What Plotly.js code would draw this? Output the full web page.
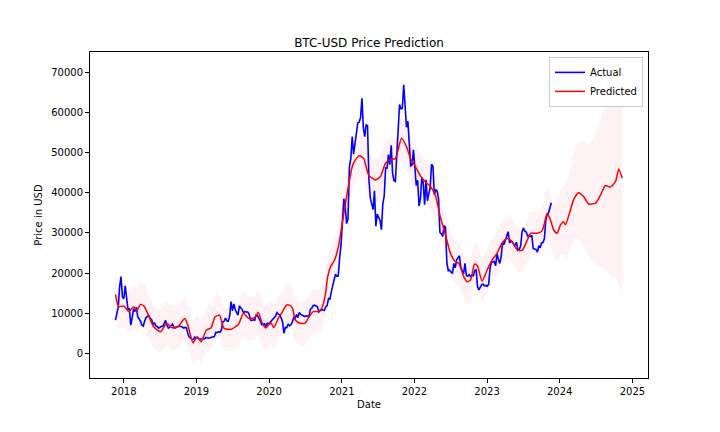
<!DOCTYPE html>
<html>
<head>
<meta charset="utf-8">
<script src="https://cdn.plot.ly/plotly-3.0.1.min.js"></script>
<style>html,body{margin:0;padding:0;background:#fff;}#chart{width:720px;height:432px;}</style>
</head>
<body>
<div id="chart"></div>
<script>
// Actual BTC-USD weekly closes (Mondays), one list per year with its first date
const actualYearStarts = ['2017-11-20','2018-01-01','2019-01-07','2020-01-06','2021-01-04','2022-01-03','2023-01-02'];
const actual2017 = [8250, 9700, 11500, 16700, 19100, 14000];
const actual2018 = [13600, 16800, 13800, 10900, 11200, 7000, 8900, 11100, 10400, 11500, 9100, 8600, 8000,
  7000, 6800, 8100, 8900, 9200, 9400, 8700, 8400, 7100, 7650, 6800, 6700, 6250, 6600, 6700, 6700, 7700, 8200,
  6950, 6300, 6500, 6900, 7300, 6300, 6300, 6600, 6600, 6650, 6750, 6550, 6300, 6450, 6350, 4850, 4000,
  3850, 3400, 3500, 4050, 3750];
const actual2019 = [4000, 3550, 3550, 3450, 3450, 3600, 3950, 3800, 3750, 3900, 4000, 4000, 4150, 5200, 5150,
  5400, 5200, 5700, 7800, 8000, 8800, 8100, 8000, 9300, 12900, 10600, 12300, 10900, 10300, 9500, 11800, 11400,
  10900, 10100, 10400, 10300, 10300, 9700, 8300, 8200, 8350, 8250, 9550, 9400, 8800, 8100, 7100, 7300, 7350,
  6650, 7500, 7300];
const actual2020 = [7750, 8100, 8650, 8900, 9300, 10150, 9700, 9650, 8750, 7900, 5000, 6450, 6400, 7300, 6850,
  7100, 7750, 8900, 8600, 9700, 8900, 10200, 9700, 9450, 9300, 9150, 9350, 9250, 9200, 11000, 11250, 11900,
  12000, 11750, 11700, 10300, 10700, 10950, 10800, 10700, 11550, 11900, 13650, 13550, 15300, 16700, 18400,
  19700, 19200, 19300, 23800, 27000];
const actual2021 = [33000, 38500, 36600, 32300, 33500, 46500, 48500, 54000, 49600, 52300, 56000, 57400, 57600,
  58700, 63500, 56200, 54000, 57000, 56700, 43500, 38700, 37300, 35800, 40500, 31700, 34700, 33700, 33100,
  30800, 37200, 39200, 46300, 46000, 49500, 47000, 51800, 44900, 43000, 42800, 49100, 57500, 62000, 60900,
  61000, 66900, 60100, 56300, 57800, 50600, 46700, 46900, 50700];
const actual2022 = [46400, 41800, 43100, 36700, 38500, 43800, 42500, 37000, 43200, 38000, 39700, 41300, 47100,
  46600, 39500, 40800, 40400, 38500, 30100, 29800, 29100, 31800, 31400, 22500, 20600, 20700, 20200, 19900,
  22400, 21300, 23300, 23800, 24300, 21400, 20300, 19800, 22400, 19400, 19200, 19600, 19100, 19500, 19300,
  20600, 20900, 16600, 15800, 16450, 17100, 17200, 16800, 16900];
const actual2023 = [16700, 17200, 21200, 22700, 22800, 22900, 21800, 24800, 23500, 22400, 24100, 27700, 27100,
  28200, 29700, 30300, 27500, 28000, 27700, 27100, 26900, 27700, 25700, 25900, 26800, 30300, 31200, 30400,
  30200, 29200, 29300, 29100, 29400, 26100, 26000, 25900, 25200, 26800, 26300, 27500, 27600, 28500, 33100,
  34500, 35000, 36500, 37500];

// Predicted series with its confidence band
const predDates = ['2017-11-20','2017-12-07','2018-01-01','2018-01-26','2018-02-20','2018-03-08','2018-03-25',
  '2018-04-12','2018-05-05','2018-05-31','2018-07-05','2018-08-05','2018-08-30','2018-10-03','2018-11-03',
  '2018-11-20','2018-12-15','2019-01-05','2019-01-25','2019-02-20','2019-03-15','2019-04-05','2019-04-27',
  '2019-05-20','2019-06-25','2019-08-01','2019-08-25','2019-09-20','2019-10-20','2019-11-08','2019-11-25',
  '2019-12-15','2020-01-10','2020-01-25','2020-02-20','2020-03-05','2020-03-28','2020-04-12','2020-04-28',
  '2020-05-12','2020-06-05','2020-07-01','2020-07-15','2020-08-10','2020-09-01','2020-09-22','2020-10-10',
  '2020-10-22','2020-11-05','2020-11-25','2020-12-15','2021-01-03','2021-01-28','2021-02-22','2021-03-10',
  '2021-04-01','2021-04-21','2021-05-16','2021-06-19','2021-07-14','2021-08-08','2021-09-02','2021-09-27',
  '2021-10-28','2021-11-22','2021-12-12','2022-01-06','2022-01-31','2022-02-25','2022-03-23','2022-04-17',
  '2022-05-11','2022-06-06','2022-07-01','2022-07-26','2022-08-12','2022-09-06','2022-09-23','2022-10-10',
  '2022-10-30','2022-11-13','2022-12-07','2023-01-01','2023-01-26','2023-02-20','2023-03-17','2023-04-12',
  '2023-05-07','2023-06-02','2023-06-27','2023-07-22','2023-08-08','2023-09-10','2023-10-05','2023-10-30',
  '2023-11-16','2023-12-02','2023-12-19','2024-01-05','2024-01-20','2024-01-30','2024-02-24','2024-03-12',
  '2024-04-06','2024-05-01','2024-05-26','2024-06-29','2024-07-24','2024-08-18','2024-09-12','2024-10-08',
  '2024-10-24','2024-11-10'];
const predValues = [14700, 11600, 11800, 10400, 11600, 10600, 12200, 11800, 9500, 6600, 5400, 7500, 6400, 6800,
  8700, 6800, 2600, 4100, 2900, 5800, 6300, 9100, 9500, 6200, 6000, 7300, 10000, 8700, 8900, 10200, 7800, 6300,
  7600, 6400, 9100, 10000, 12000, 12000, 11200, 8300, 7500, 7500, 8700, 10400, 10400, 11200, 14500, 19100,
  21600, 23200, 26600, 32400, 39900, 46500, 48200, 49200, 48500, 44400, 43200, 44000, 47300, 48300, 48500,
  53600, 51500, 48600, 46500, 44200, 42700, 41500, 39200, 34000, 29500, 24900, 22800, 22400, 19100, 17800,
  18300, 22200, 21800, 18000, 20700, 23200, 24900, 27400, 28600, 27800, 25700, 25700, 28200, 29900, 29900,
  30500, 34900, 33200, 30700, 29900, 32000, 32800, 32000, 35700, 38400, 40000, 39000, 37200, 37400, 39400,
  41800, 41400, 42800, 45900, 43600];
const predUpper = [20000, 17000, 17200, 15800, 17000, 16000, 17600, 17200, 14900, 12000, 10800, 12900, 11800,
  12200, 14100, 12200, 8000, 9500, 8300, 11200, 11700, 14500, 14900, 11600, 11400, 12700, 15400, 14100, 14300,
  15600, 13200, 11700, 13000, 11800, 14500, 15400, 17400, 17400, 16600, 13700, 12900, 12900, 14100, 15800,
  15800, 16600, 19900, 24500, 27000, 28600, 32000, 37800, 45300, 51900, 53600, 54600, 53900, 49800, 48600,
  49400, 52700, 53700, 53900, 59000, 56900, 54000, 51900, 49600, 48100, 46900, 44600, 39400, 34900, 30300,
  28200, 27800, 24500, 23200, 23700, 27600, 27200, 23400, 26100, 28600, 30300, 32800, 34000, 33200, 31100,
  31100, 33600, 35300, 35300, 36000, 40800, 39500, 37500, 37500, 40500, 42000, 42000, 46500, 50000, 52500,
  52500, 52000, 54500, 58000, 62000, 63000, 66000, 70000, 71000];
const predLower = [9400, 6200, 6400, 5000, 6200, 5200, 6800, 6400, 4100, 1200, 0, 2100, 1000, 1400, 3300, 1400,
  -2500, -1300, -2400, 400, 900, 3700, 4100, 800, 600, 1900, 4600, 3300, 3500, 4800, 2400, 900, 2200, 1000,
  3700, 4600, 6600, 6600, 5800, 2900, 2100, 2100, 3300, 5000, 5000, 5800, 9100, 13700, 16200, 17800, 21200,
  27000, 34500, 41100, 42800, 43800, 43100, 39000, 37800, 38600, 41900, 42900, 43100, 48200, 46100, 43200,
  41100, 38800, 37300, 36100, 33800, 28600, 24100, 19500, 17400, 17000, 13700, 12400, 12900, 16800, 16400,
  12600, 15300, 17800, 19500, 22000, 23200, 22400, 20300, 20300, 22800, 24500, 24500, 25000, 29000, 26900,
  24000, 23000, 24500, 24500, 23500, 26000, 28000, 28500, 26500, 24000, 22000, 21500, 21000, 19500, 18500,
  17500, 14000];

const yTicks = [0, 10000, 20000, 30000, 40000, 50000, 60000, 70000];
const xTickVals = ['2018-01-01','2019-01-01','2020-01-01','2021-01-01','2022-01-01','2023-01-01','2024-01-01','2025-01-01'];
const xTickText = ['2018','2019','2020','2021','2022','2023','2024','2025'];

function weekly(start, n) {
  const d0 = new Date(start + 'T00:00:00Z').getTime();
  const out = [];
  for (let i = 0; i < n; i++) out.push(new Date(d0 + i * 7 * 86400000).toISOString().slice(0, 10));
  return out;
}
const actualLists = [actual2017, actual2018, actual2019, actual2020, actual2021, actual2022, actual2023];
let actualDates = [], actualValues = [];
actualLists.forEach((arr, k) => {
  actualDates = actualDates.concat(weekly(actualYearStarts[k], arr.length));
  actualValues = actualValues.concat(arr);
});

const font = 'DejaVu Sans, Arial, sans-serif';
const traces = [
  {x: predDates, y: predLower, type: 'scatter', mode: 'lines', line: {width: 0, shape: 'spline', smoothing: 0.6},
   showlegend: false, hoverinfo: 'skip'},
  {x: predDates, y: predUpper, type: 'scatter', mode: 'lines', line: {width: 0, shape: 'spline', smoothing: 0.6},
   fill: 'tonexty', fillcolor: 'rgba(255,192,203,0.2)', showlegend: false, hoverinfo: 'skip'},
  {x: actualDates, y: actualValues, type: 'scatter', mode: 'lines', name: 'Actual',
   line: {color: '#0000ff', width: 1.6}},
  {x: predDates, y: predValues, type: 'scatter', mode: 'lines', name: 'Predicted',
   line: {color: '#ff0000', width: 1.5, shape: 'spline', smoothing: 0.6}}
];
const axisCommon = {showline: true, mirror: true, linecolor: '#000', linewidth: 1, ticks: 'outside', ticklen: 4,
  tickcolor: '#000', showgrid: false, zeroline: false, tickfont: {family: font, size: 10, color: '#000'}};
const layout = {
  width: 720, height: 432,
  margin: {l: 90, r: 72, t: 52, b: 54},
  paper_bgcolor: '#fff', plot_bgcolor: '#fff',
  font: {family: font, size: 10, color: '#000'},
  title: {text: 'BTC-USD Price Prediction', font: {family: font, size: 12, color: '#000'},
    x: 0.5, xref: 'paper', y: 1, yref: 'paper', yanchor: 'bottom', pad: {b: 5}},
  xaxis: Object.assign({}, axisCommon, {type: 'date', range: ['2017-07-15', '2025-03-20'],
    tickmode: 'array', tickvals: xTickVals, ticktext: xTickText,
    title: {text: 'Date', font: {family: font, size: 10, color: '#000'}, standoff: 4}}),
  yaxis: Object.assign({}, axisCommon, {range: [-6150, 75060], tickmode: 'array', tickvals: yTicks,
    ticktext: yTicks.map(String),
    title: {text: 'Price in USD', font: {family: font, size: 10, color: '#000'}, standoff: 6}}),
  legend: {x: 0.991, y: 0.985, xanchor: 'right', yanchor: 'top', traceorder: 'normal',
    bgcolor: 'rgba(255,255,255,0.9)', bordercolor: '#cccccc', borderwidth: 1, itemwidth: 30,
    tracegroupgap: 0, font: {family: font, size: 10, color: '#000'}},
  showlegend: true
};
Plotly.newPlot('chart', traces, layout, {displayModeBar: false, staticPlot: true});
</script>
</body>
</html>
